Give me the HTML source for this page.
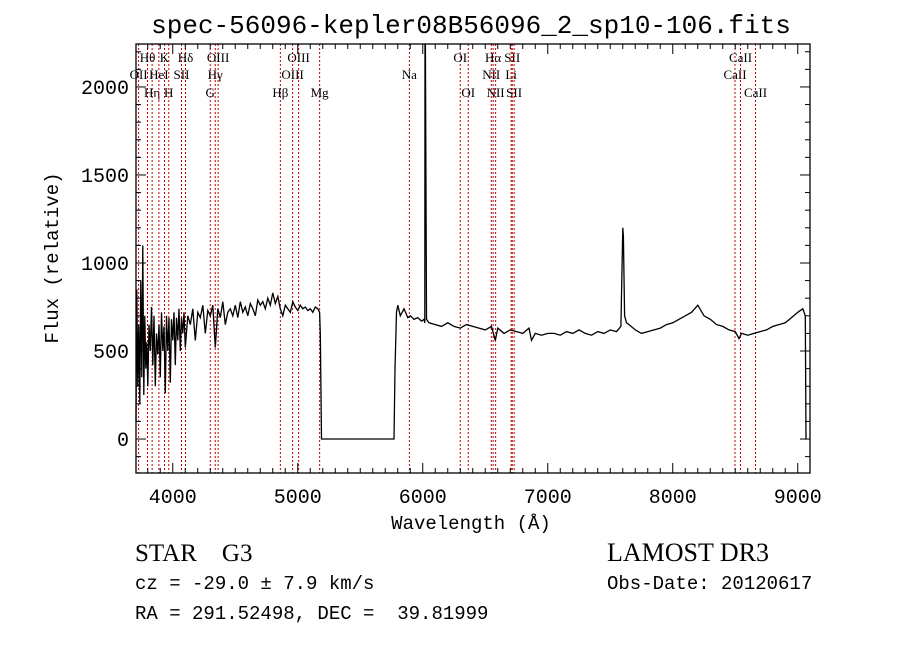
<!DOCTYPE html>
<html><head><meta charset="utf-8"><style>
html,body{margin:0;padding:0;background:#fff;}
svg{display:block;}
text{font-family:"Liberation Mono",monospace;fill:#000;white-space:pre;}
.s{font-family:"Liberation Serif",serif;}
</style></head><body>
<svg id="c" width="900" height="649" viewBox="0 0 900 649" xmlns="http://www.w3.org/2000/svg">
<rect width="900" height="649" fill="#fff"/>
<text x="471" y="33" font-size="26" text-anchor="middle">spec-56096-kepler08B56096_2_sp10-106.fits</text>
<g id="lines"></g>
<g id="spec"></g>
<g id="axes"></g>
<text x="471" y="529" font-size="19" text-anchor="middle">Wavelength (Å)</text>
<text transform="translate(58,258) rotate(-90)" font-size="19" text-anchor="middle">Flux (relative)</text>
<text x="135" y="561" font-size="25" class="s" xml:space="preserve">STAR    G3</text>
<text x="135" y="589" font-size="19" xml:space="preserve">cz = -29.0 ± 7.9 km/s</text>
<text x="135" y="619" font-size="19" xml:space="preserve">RA = 291.52498, DEC =  39.81999</text>
<text x="607" y="561" font-size="26" class="s">LAMOST DR3</text>
<text x="607" y="589" font-size="19">Obs-Date: 20120617</text>
</svg>
<script>
const waves=[3706,3712,3720,3728,3736,3744,3752,3760,3768,3776,3784,3792,3800,3810,3820,3830,3840,3850,3860,3870,3880,3890,3900,3910,3920,3930,3940,3950,3960,3970,3980,3990,4000,4010,4020,4030,4040,4050,4060,4070,4080,4090,4100,
4120,4140,4160,4180,4200,4220,4240,4260,4280,4300,4320,4340,4360,4380,4400,4420,4440,4460,4480,4500,4520,4540,4560,4580,4600,4620,4640,4660,4680,4700,4720,4740,4760,4780,4800,4820,4840,4860,
4880,4900,4920,4940,4960,4980,5000,5020,5040,5060,5080,5100,5120,5140,5160,5175,5180,5190,5770,5778,5790,5800,5820,5850,5880,5900,5930,5960,5990,6010,6016,6018,6021,6030,
6050,6100,6150,6200,6250,6300,6350,6400,6450,6500,6550,6580,6600,6650,6700,6750,6800,6850,6870,6900,6950,7000,
7050,7100,7150,7200,7250,7300,7350,7400,7450,7500,7550,7585,7600,7605,7615,7630,
7650,7700,7750,7800,7850,7900,7950,8000,8050,8100,8150,8200,
8250,8300,8350,8400,8450,8500,8530,8550,8600,8650,8700,8750,8800,8850,8900,8950,9000,9040,9060,9066,9070];
const flux=[100,850,300,650,200,900,350,1100,250,700,400,550,300,650,500,750,420,700,300,600,480,650,350,720,500,640,260,700,500,690,320,680,560,720,420,690,560,740,500,690,600,720,520,
700,650,740,560,720,690,760,600,730,700,760,520,740,690,780,650,720,740,700,760,690,780,720,750,700,770,740,700,790,760,780,740,800,760,830,770,810,740,
700,760,740,720,780,750,730,760,740,750,730,740,720,750,740,720,600,0,0,400,720,760,700,740,690,700,680,690,670,680,660,2300,2300,680,
660,650,640,660,640,630,650,640,630,620,640,560,630,600,620,610,600,630,560,600,590,600,
600,590,610,600,620,600,590,610,600,620,610,640,1200,1150,700,660,
650,620,600,610,620,630,650,660,680,700,720,760,
700,680,650,640,620,610,570,600,590,600,610,620,640,650,660,690,720,740,700,0,0];
const lineWaves=[3727,3798,3835,3889,3934,3968,4070,4102,4300,4340,4363,4861,4959,5007,5175,5893,6300,6364,6548,6563,6583,6707,6716,6731,8498,8542,8662];
const lineNames=["OII","Hθ","Hη","HeI","K","H","SII","Hδ","G","Hγ","OIII","Hβ","OIII","OIII","Mg","Na","OI","OI","NII","Hα","NII","Li","SII","SII","CaII","CaII","CaII"];
const lineRows=[2,1,3,2,1,3,2,1,3,2,1,3,2,1,3,2,1,3,2,1,3,2,1,3,2,1,3];
const xTicks=[4000,5000,6000,7000,8000,9000];
const yTicks=[0,500,1000,1500,2000];

const L=136,R=810,T=44,B=473;
const X0=3706,X1=9098,Y0=-193,Y1=2244;
const sx=w=>L+(w-X0)/(X1-X0)*(R-L);
const sy=f=>B-(f-Y0)/(Y1-Y0)*(B-T);
const NS="http://www.w3.org/2000/svg";
function mk(tag,at,parent){const e=document.createElementNS(NS,tag);for(const k in at)e.setAttribute(k,at[k]);parent.appendChild(e);return e;}

const lg=document.getElementById('lines');
const rowY=[0,62,79,97];
lineWaves.forEach((w,i)=>{
  const x=sx(w);
  const ln=mk('line',{x1:x,x2:x,y1:T,y2:B,stroke:'#c00000','stroke-width':1,'stroke-dasharray':'2,2'},lg);
  
  
  const t=mk('text',{x:x,y:rowY[lineRows[i]],'font-size':13,'text-anchor':'middle',class:'s'},lg);
  t.textContent=lineNames[i];
  
  
});

const sg=document.getElementById('spec');
let d='';
waves.forEach((w,i)=>{d+=(i?'L':'M')+sx(w).toFixed(1)+','+Math.max(T,sy(flux[i])).toFixed(1);});
const p=mk('path',{d:d,fill:'none',stroke:'#000','stroke-width':1.3},sg);



const ag=document.getElementById('axes');
const fr=mk('rect',{x:L,y:T,width:R-L,height:B-T,fill:'none',stroke:'#000','stroke-width':1.3},ag);


for(let w=3800;w<=9000;w+=100){
  const x=sx(w),big=w%1000===0,len=big?10:5;
  mk('line',{x1:x,x2:x,y1:B,y2:B-len,stroke:'#000'},ag);
  mk('line',{x1:x,x2:x,y1:T,y2:T+len,stroke:'#000'},ag);
}
xTicks.forEach(w=>{
  const t=mk('text',{x:sx(w),y:503,'font-size':20,'text-anchor':'middle'},ag);
  t.textContent=w;
  
  
});
for(let f=-100;f<=2200;f+=100){
  const y=sy(f),big=f%500===0,len=big?10:5;
  mk('line',{x1:L,x2:L+len,y1:y,y2:y,stroke:'#000'},ag);
  mk('line',{x1:R,x2:R-len,y1:y,y2:y,stroke:'#000'},ag);
}
yTicks.forEach(f=>{
  const t=mk('text',{x:129,y:sy(f)+7,'font-size':20,'text-anchor':'end'},ag);
  t.textContent=f;
  
  
});
</script>
</body></html>
